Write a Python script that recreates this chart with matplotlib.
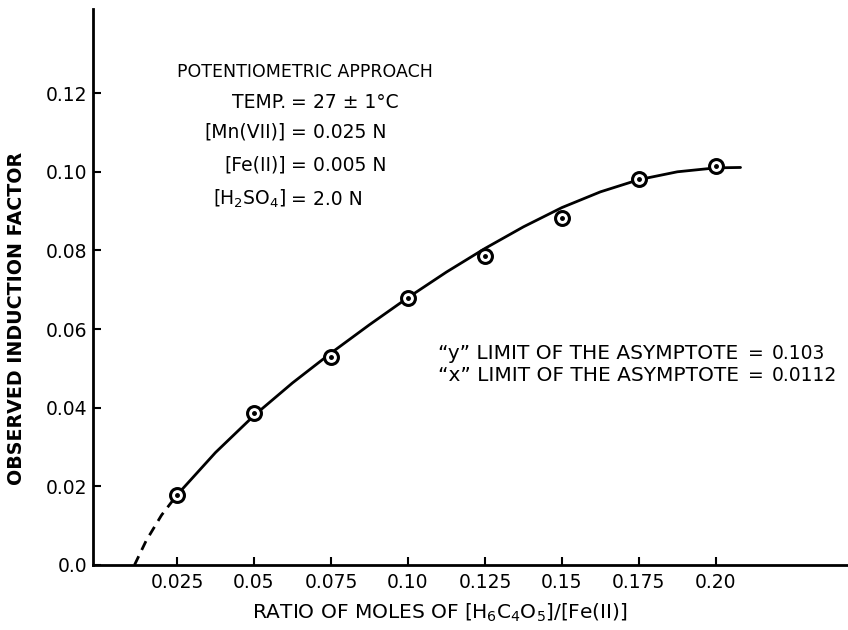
"""
Observed induction factor vs mole ratio, potentiometric approach.
"""

import matplotlib
matplotlib.use("Agg")
import matplotlib.pyplot as plt

# measured points
ratio = [0.025, 0.05, 0.075, 0.10, 0.125, 0.15, 0.175, 0.20]
induction = [0.0178, 0.0386, 0.0529, 0.0679, 0.0786, 0.0882, 0.0981, 0.1014]

# fitted curve as drawn
fit_x = [0.025, 0.0375, 0.05, 0.0625, 0.075, 0.0875, 0.10, 0.1125,
         0.125, 0.1375, 0.15, 0.1625, 0.175, 0.1875, 0.20, 0.208]
fit_y = [0.0178, 0.0286, 0.0380, 0.0463, 0.0539, 0.0611, 0.0680, 0.0745,
         0.0805, 0.0860, 0.0909, 0.0949, 0.0980, 0.1000, 0.1010, 0.1011]

# extrapolated (dashed) part down to the x intercept
extra_x = [0.0112, 0.0150, 0.0200, 0.025]
extra_y = [0.0, 0.0062, 0.0127, 0.0178]

x_ticks = [0.025, 0.05, 0.075, 0.10, 0.125, 0.15, 0.175, 0.20]
x_labels = ["0.025", "0.05", "0.075", "0.10", "0.125", "0.15", "0.175", "0.20"]
y_ticks = [0.0, 0.02, 0.04, 0.06, 0.08, 0.10, 0.12]
y_labels = ["0.0", "0.02", "0.04", "0.06", "0.08", "0.10", "0.12"]

cond_names = ["TEMP.", "[Mn(VII)]", "[Fe(II)]", "[H$_2$SO$_4$]"]
cond_values = ["27 \u00b1 1\u00b0C", "0.025 N", "0.005 N", "2.0 N"]

limit_names = ["\u201cy\u201d LIMIT OF THE ASYMPTOTE",
               "\u201cx\u201d LIMIT OF THE ASYMPTOTE"]
limit_values = ["0.103", "0.0112"]

plt.rcParams['font.family'] = ['DejaVu Sans']
plt.rcParams['mathtext.default'] = 'regular'

fig = plt.figure(figsize=(8.48, 6.3), dpi=100)
ax = fig.add_axes([0.1097, 0.1032, 0.8903, 0.8825])

ax.plot(fit_x, fit_y, color='black', lw=2.0, solid_capstyle='round')
ax.plot(extra_x, extra_y, color='black', lw=2.0, linestyle=(0, (3.5, 2.5)))
ax.plot(ratio, induction, linestyle='none', marker='o', ms=10,
        mfc='white', mec='black', mew=2.2, zorder=3)
ax.plot(ratio, induction, linestyle='none', marker='o', ms=2.5,
        color='black', zorder=4)

ax.set_xlim(-0.00227, 0.2429)
ax.set_ylim(0.0, 0.1414)

ax.spines['top'].set_visible(False)
ax.spines['right'].set_visible(False)
ax.spines['left'].set_linewidth(2.0)
ax.spines['bottom'].set_linewidth(2.0)

ax.set_xticks(x_ticks)
ax.set_xticklabels(x_labels)
ax.set_yticks(y_ticks)
ax.set_yticklabels(y_labels)
ax.tick_params(direction='in', length=6, width=1.5, labelsize=13.5, pad=6)
ax.tick_params(axis='y', pad=4)

fig.text(0.019, 0.495, "OBSERVED INDUCTION FACTOR", rotation=90,
         ha='center', va='center', fontsize=13.7, fontweight='bold')
fig.text(0.518, 0.028, "RATIO OF MOLES OF [H$_6$C$_4$O$_5$]/[Fe(II)]",
         ha='center', va='center', fontsize=14.5)

# condition block (left)
ax.text(0.0251, 0.1253, "POTENTIOMETRIC APPROACH", fontsize=12.5,
        ha='left', va='center')
cond_y = [0.1175, 0.1101, 0.1016, 0.0930]
for name, value, yy in zip(cond_names, cond_values, cond_y):
    ax.text(0.0604, yy, name, fontsize=13.5, ha='right', va='center')
    ax.text(0.0646, yy, "=", fontsize=13.5, ha='center', va='center')
    ax.text(0.0692, yy, value, fontsize=13.5, ha='left', va='center')

# asymptote notes (right)
limit_y = [0.0539, 0.0481]
for name, value, yy in zip(limit_names, limit_values, limit_y):
    ax.text(0.1097, yy, name, fontsize=14.5, ha='left', va='center')
    ax.text(0.2130, yy, "=", fontsize=13.5, ha='center', va='center')
    ax.text(0.2180, yy, value, fontsize=13.5, ha='left', va='center')

fig.savefig("out.png", dpi=100)
